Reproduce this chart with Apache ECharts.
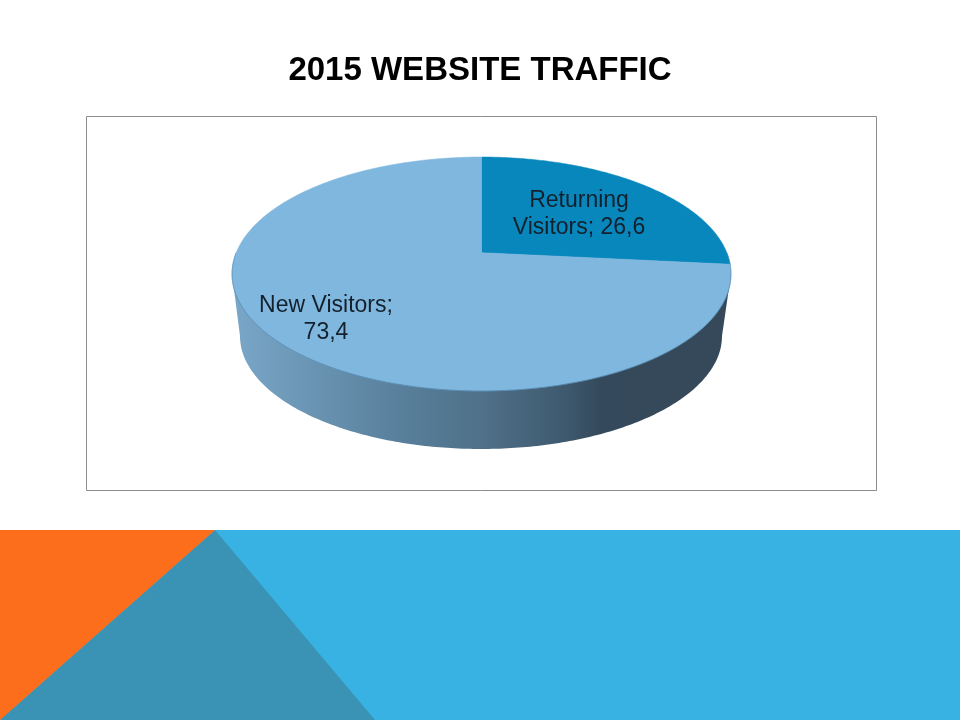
<!DOCTYPE html>
<html><head><meta charset="utf-8">
<style>html,body{margin:0;padding:0;background:#fff}#c{width:960px;height:720px}</style>
<script src="https://cdn.jsdelivr.net/npm/echarts@6/dist/echarts.min.js"></script>
</head><body><div id="c"></div>
<script>
const chartTitle = '2015 WEBSITE TRAFFIC';
const categories = ['Returning Visitors', 'New Visitors'];
const shareValues = [26.6, 73.4];
const labelLines = [['Returning', 'Visitors; '], ['New Visitors;', '']];

const sliceColors = ['#0887bd', '#80b7de'];
const labelCentres = [[579, 200.5], [326, 306]];
// Perspective of the pie disc
const P = {cx: 481.5, R: 245.3, a: 67.1, b: 252.7, c: -0.182};
const BASE = {cx: 481, cy: 336, rx: 241, ry: 113};
const LINE_H = 27;

function project(angle) {
  const u = Math.sin(angle), v = -Math.cos(angle), d = 1 + P.c * v;
  return [P.cx + P.R * u / d, (P.a * v + P.b) / d];
}
const total = shareValues.reduce((s, v) => s + v, 0);
function startOf(i) {
  let s = 0;
  for (let k = 0; k < i; k++) s += shareValues[k];
  return s / total * 2 * Math.PI;
}
function renderSlice(params, api) {
  const i = params.dataIndex, a0 = startOf(i), a1 = a0 + api.value(1) / total * 2 * Math.PI;
  const pts = [[P.cx, P.b]];
  const n = Math.ceil((a1 - a0) / 0.01);
  for (let k = 0; k <= n; k++) pts.push(project(a0 + (a1 - a0) * k / n));
  const value = api.value(1).toFixed(1).replace('.', ',');
  const lines = labelLines[i];
  const text = i === 0 ? [lines[0], lines[1] + value] : [lines[0], value];
  const [lx, ly] = labelCentres[i];
  return {type: 'group', children: [
    {type: 'polygon', shape: {points: pts}, style: {fill: sliceColors[i], stroke: sliceColors[i], lineWidth: 0.5}},
    ...text.map((t, j) => ({type: 'text', z2: 10, style: {
      text: t, x: lx, y: ly + j * LINE_H, align: 'center', verticalAlign: 'middle',
      font: '23px "Liberation Sans"', fill: '#14202c'}}))
  ]};
}
function renderDepth() {
  const pts = [];
  const n = 200;
  for (let k = 0; k <= n; k++) {
    const t = Math.PI * k / n;
    pts.push([BASE.cx - BASE.rx * Math.cos(t), BASE.cy + BASE.ry * Math.sin(t)]);
  }
  pts.push([P.cx + 249.5, 274], [P.cx - 249.5, 274]);
  return {type: 'polygon', shape: {points: pts}, style: {
    fill: new echarts.graphic.LinearGradient(0, 0, 1, 0, [
      {offset: 0, color: '#7aa7c8'},
      {offset: 0.34, color: '#587f9b'},
      {offset: 0.5, color: '#4f7189'},
      {offset: 0.66, color: '#3f5a6f'},
      {offset: 0.74, color: '#34495b'},
      {offset: 1, color: '#36495a'}
    ])}};
}
function renderRim() {
  const pts = [];
  for (let k = 0; k <= 320; k++) pts.push(project(Math.PI * (0.5 + k / 320)));
  return {type: 'polyline', shape: {points: pts}, style: {fill: 'none', stroke: '#4a7fa6', lineWidth: 0.6}};
}
const chart = echarts.init(document.getElementById('c'), null, {renderer: 'canvas'});
chart.setOption({
  animation: false,
  backgroundColor: '#ffffff',
  title: {text: chartTitle, left: 'center', top: 49,
    textStyle: {fontFamily: 'Liberation Sans', fontWeight: 'bold', fontSize: 33, color: '#000'}},
  graphic: [
    {type: 'rect', silent: true, z: -1, shape: {x: 0, y: 530, width: 960, height: 190}, style: {fill: '#38b2e2'}},
    {type: 'polygon', silent: true, z: -1, shape: {points: [[215, 530], [375, 720], [0, 720]]}, style: {fill: '#3a93b4'}},
    {type: 'polygon', silent: true, z: -1, shape: {points: [[0, 530], [215, 530], [0, 720]]}, style: {fill: '#fc6d1c'}},
    {type: 'rect', silent: true, z: -1, shape: {x: 86.5, y: 116.5, width: 790, height: 374}, style: {fill: '#fff', stroke: '#8c8c8c', lineWidth: 1}}
  ],
  series: [
    {type: 'custom', name: 'depth', coordinateSystem: 'none', silent: true, renderItem: renderDepth, data: [0]},
    {type: 'custom', name: 'traffic', coordinateSystem: 'none', silent: true, renderItem: renderSlice,
     data: categories.map((c, i) => ({name: c, value: [i, shareValues[i]]}))},
    {type: 'custom', name: 'rim', coordinateSystem: 'none', silent: true, renderItem: renderRim, data: [0]}
  ]
});
</script></body></html>
